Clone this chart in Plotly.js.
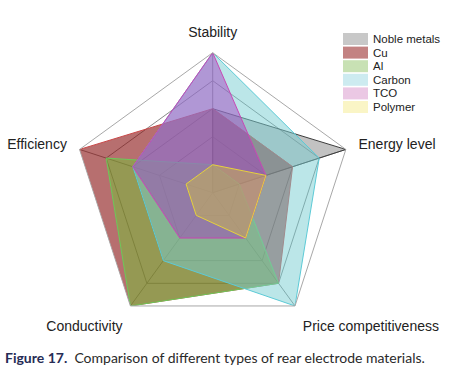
<!DOCTYPE html>
<html>
<head>
<meta charset="utf-8">
<script src="https://cdn.plot.ly/plotly-3.0.1.min.js"></script>
<style>html,body{margin:0;padding:0;background:#fff;}#chart{width:464px;height:379px;}</style>
</head>
<body>
<div id="chart"></div>
<script>
var categories = ['Stability', 'Energy level', 'Price competitiveness', 'Conductivity', 'Efficiency'];
var seriesNames = ['Noble metals', 'Cu', 'Al', 'Carbon', 'TCO', 'Polymer'];
var nobleMetals = [3, 5, 0, 0, 0];
var cu = [3, 3, 4, 5, 5];
var al = [1, 1, 4, 5, 4];
var carbon = [5, 4, 5, 3, 3];
var tco = [5, 2, 2, 2, 3];
var polymer = [1, 2, 2, 1, 1];
var radialTicks = [1, 2, 3, 4];

var seriesValues = [nobleMetals, cu, al, carbon, tco, polymer];
var lineColors = ['#3c3c3c', '#c84848', '#6cc85a', '#5ccad6', '#c848b4', '#e6d23c'];
var fillColors = ['rgba(120,120,120,0.45)', 'rgba(135,15,15,0.6)', 'rgba(115,195,55,0.5)',
                  'rgba(120,205,210,0.5)', 'rgba(165,55,190,0.45)', 'rgba(215,195,60,0.42)'];
var legendColors = ['rgb(200,200,200)', 'rgb(195,130,130)', 'rgb(200,225,180)',
                    'rgb(205,235,240)', 'rgb(235,200,228)', 'rgb(250,245,198)'];

var traces = seriesValues.map(function (vals, i) {
  return {
    type: 'scatterpolar',
    name: seriesNames[i],
    r: vals.concat([vals[0]]),
    theta: categories.concat([categories[0]]),
    mode: 'lines',
    fill: 'toself',
    fillcolor: fillColors[i],
    line: {color: lineColors[i], width: 1},
    hoverinfo: 'name+r+theta'
  };
});

// custom legend built from series names and colours
var shapes = [];
var annotations = [];
var W = 464, H = 379;
seriesNames.forEach(function (name, i) {
  var cy = 39 + i * 13.6;
  shapes.push({
    type: 'rect', xref: 'paper', yref: 'paper',
    x0: 343 / W, x1: 368 / W, y0: (H - cy - 6) / H, y1: (H - cy + 6) / H,
    fillcolor: legendColors[i], line: {width: 0}
  });
  annotations.push({
    xref: 'paper', yref: 'paper', x: 371 / W, y: (H - cy) / H,
    xanchor: 'left', yanchor: 'middle', showarrow: false,
    text: name, font: {family: 'Liberation Sans, Arial, sans-serif', size: 11.5, color: '#222'}
  });
});
annotations.push({
  xref: 'paper', yref: 'paper', x: 3 / W, y: (H - 357) / H,
  xanchor: 'left', yanchor: 'middle', showarrow: false,
  text: '<span style="color:#262c55"><b>Figure 17.</b></span>  Comparison of different types of rear electrode materials.',
  font: {family: 'Lato, Noto Sans, sans-serif', size: 14, color: '#2a2a2a'}
});

var cx = 212.7, cyc = 192.7, R = 140;
var layout = {
  width: W, height: H,
  margin: {l: 0, r: 0, t: 0, b: 0},
  paper_bgcolor: '#fff',
  showlegend: false,
  polar: {
    domain: {x: [(cx - R) / W, (cx + R) / W], y: [(H - cyc - R) / H, (H - cyc + R) / H]},
    bgcolor: 'rgba(0,0,0,0)',
    gridshape: 'linear',
    radialaxis: {
      range: [0, 5], tickvals: radialTicks, showticklabels: false, ticks: '',
      showline: false, gridcolor: '#8a8a8a', gridwidth: 1
    },
    angularaxis: {
      direction: 'clockwise', rotation: 90,
      ticks: 'outside', ticklen: 10, tickcolor: 'rgba(0,0,0,0)',
      showline: true, linecolor: '#a8a8a8', linewidth: 1,
      gridcolor: '#8a8a8a', gridwidth: 1,
      tickfont: {family: 'Liberation Sans, Arial, sans-serif', size: 14, color: '#222'}
    }
  },
  shapes: shapes,
  annotations: annotations
};

Plotly.newPlot('chart', traces, layout, {displayModeBar: false, staticPlot: true});
</script>
</body>
</html>
